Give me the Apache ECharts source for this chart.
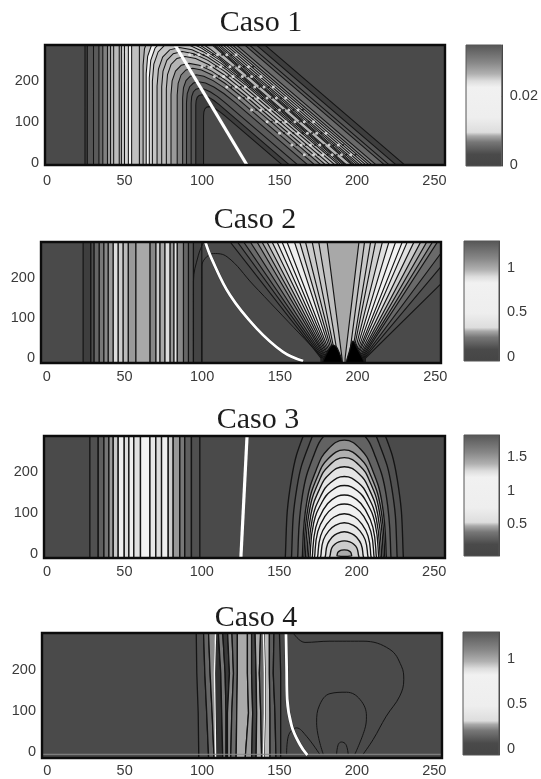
<!DOCTYPE html>
<html><head><meta charset="utf-8">
<style>html,body{margin:0;padding:0;background:#fff}#c{width:541px;height:779px;filter:blur(0.45px)}</style>
<script src="https://cdn.jsdelivr.net/npm/echarts@6/dist/echarts.min.js"></script>
</head><body><div id="c"></div>
<script>
// ---------- tick labels ----------
const xTicks = [0, 50, 100, 150, 200, 250];
const yTicks = [0, 100, 200];
const titles = ['Caso 1', 'Caso 2', 'Caso 3', 'Caso 4'];
const barTicks1 = [0, 0.02];
const barTicks2 = [0, 0.5, 1];
const barTicks3 = [0.5, 1, 1.5];
const barTicks4 = [0, 0.5, 1];
// colour bar: fraction of the range, grey
const barStops = [[0,'#454545'],[0.1,'#4a4a4a'],[0.2,'#777777'],[0.25,'#a8a8a8'],[0.28,'#dddddd'],[0.4,'#eeeeee'],[0.65,'#f1f1f1'],[0.7,'#dddddd'],[0.76,'#b0b0b0'],[0.85,'#888888'],[1,'#555555']];

// ---------- Caso 1: contour levels, outermost first ----------
const c1LeftX   = [24.5,26,30,33.5,36,39,41,43,46.6,48,50,52.5,54.6,59.6];
const c1RightX  = [101,96,93,90,87.5,84,80,77,74,71,68,66,64,62];
const c1ApexY   = [137,166,182,198,215,231,243,260,272,282,295,305,315,330];
const c1DiagInnerBottom = [150,154.6,160,166.5,171,175,178,181,184,186.5,188,189.5,190.5,191.5];
const c1DiagOuterBottom = [229,223.5,219,216,210.6,208,206,204,202,200,198.5,197,196,195];
const c1DiagSlope = 0.307;
const c1Grey = ['#3e3e3e','#555555','#5a5a5a','#6a6a6a','#808080','#999999','#b4b4b4','#bbbbbb','#b4b4b4','#c4c4c4','#d4d4d4','#f4f4f4','#c0c0c0','#b4b4b4'];
const c1White = [[82.6,288],[129,-6]];
// moire dots of the diagonal band: row height, first x, last x
const c1DotRows = [[264,92,124],[235,100,133],[211,108,140],[185,116,148],[158,124,156],[129,132,165],[100,142,174],[72,150,182],[43,158,192],[19,166,200]];

// ---------- Caso 2 ----------
const c2StripeX = [23.4,28.4,30.5,33.8,36.8,39.6,42.8,46,49.2,52.5,57.4,66.5,70.3,72.9,76.1,79.4,81.9,84,88,91.2,94.4,99.8];
const c2StripeGrey = ['#3e3e3e','#4e4e4e','#666666','#777777','#888888','#9a9a9a','#dddddd','#cccccc','#bbbbbb','#999999','#a8a8a8','#888888','#cccccc','#aaaaaa','#dddddd','#999999','#e8e8e8','#888888','#666666','#555555','#444444'];
const c2FanLeftTop = [118,122.7,126.7,131,135.3,138.5,141.7,145,148.2,151.4,154.6,159.4,162.8,166.5,170.8,175,180.4];
const c2FanLeftBottom = [176.5,177.2,178,178.7,179.4,180,180.7,181.4,182,182.7,183.4,184,184.7,185.4,186,187.5,190];
const c2FanRightTop = [281,267,259,251.4,248.2,244.5,240.6,236.3,232,228.8,224.5,220.2,216,211.6,208.4,204.5,200.9];
const c2FanRightBottom = [205,204.3,203.6,203,202.3,201.6,201,200.3,199.6,199,198.4,197.8,197.2,196.6,196,194.5,192];
const c2FanGrey = ['#505050','#5a5a5a','#6a6a6a','#808080','#999999','#b0b0b0','#cccccc','#e0e0e0','#eeeeee','#f2f2f2','#eeeeee','#e0e0e0','#d0d0d0','#cccccc','#c8c8c8','#c0c0c0','#a8a8a8'];
const c2BlobLeft = [[177.5,-20],[181,18],[184,32],[187,24],[190,-20]];
const c2BlobRight = [[193,-20],[195,20],[197,42],[200,22],[204.5,-20]];
const c2ArchA = [[99.8,-13],[99.8,229],[102,250],[107.3,262],[116,254],[133,183],[178,-2]];
const c2ArchB = [[94.4,-13],[94.4,191],[97.6,258],[100.9,291]];
const c2White = [[102,292],[106,250],[118,157],[135,74],[152,15],[165,-8]];

// ---------- Caso 3 ----------
const c3StripeX = [27.7,33.1,36.8,40,42.8,46,49.9,52.9,56.1,60.4,66.5,70.3,74,78.3,81.5,85.8,89,93.3,98.7];
const c3StripeGrey = ['#505050','#5e5e5e','#757575','#999999','#c8c8c8','#eeeeee','#dddddd','#eeeeee','#e0e0e0','#f2f2f2','#e8e8e8','#dddddd','#eeeeee','#cccccc','#999999','#777777','#5e5e5e','#505050'];
const c3ArcCentre = 192;
const c3ArcHalfWidth = [38,34,30,27,26,25,24,23,22,20.5,19,17,15,12,9,4.5];
const c3ArcApexY = [403,360,320,278,254,235,213,189,167,144,122,98,76,54,32,10];
const c3ArcGrey = ['#505050','#585858','#626262','#909090','#b0b0b0','#d0d0d0','#e4e4e4','#eeeeee','#f0f0f0','#f2f2f2','#f0f0f0','#eeeeee','#e8e8e8','#dddddd','#cccccc','#aaaaaa'];
// arc outline: share of the apex height, share of the half width
const c3ArcProfile = [[-0.5,1],[0,1],[0.45,0.9],[0.75,0.66],[0.92,0.39],[1,0]];
const c3White = [[129.2,288],[125.2,-10]];

// ---------- Caso 4 ----------
const c4EdgeY = [300,192,95,-20];
const c4Edges = [[96.2,96.6,97.5,97.9],[100.9,101.8,103,104.3],[104.1,105.2,106.5,107.8],[109,108.2,108.6,109],[110.4,112.1,112.7,113.4],[113.2,114.9,115.5,115.5],[116.4,117.7,116.4,116.4],[119.2,120.3,119.2,118.5],[122.8,122.8,122.4,122],[129.3,129.3,130,127.8],[132,132,132.7,132],[134.2,134.9,135.3,134.9],[137.9,137,137.9,138.5],[140,140.7,140.7,140],[143.5,143.5,143.9,143.9],[146.5,146,147.1,147.8],[149.9,150.8,150.8,150.8]];
const c4Grey = ['#505050','#666666','#8a8a8a','#333333','#777777','#3a3a3a','#888888','#6a6a6a','#aaaaaa','#999999','#444444','#aaaaaa','#666666','#bbbbbb','#5e5e5e','#505050'];
const c4ThinWhiteA = [[108.8,300],[108,192],[108.4,95],[108.8,-20]];
const c4ThinWhiteB = [[139.6,300],[140.3,192],[140.3,95],[139.6,-20]];
const c4LineOuter = [[158.9,290],[166.5,267],[182.6,270],[204,270],[221.3,250],[228.8,209],[230.3,176],[227.7,136],[219,87],[210.5,30],[204,-6]];
const c4LineMid = [[178.3,-6],[174,71],[176,115],[182.6,142],[193.3,145.5],[202,128],[206.2,87],[205,54],[198.7,-6]];
const c4LineSmall = [[186.9,-6],[188,18],[190,24],[192.9,18],[194.4,-6]];
const c4LineSide = [[154.6,-6],[155.7,38],[161,58.5],[167.5,38],[176,-6]];
const c4BaseLine = [[-4,-6],[256,-6]];
const c4White = [[154.2,290],[154.6,209],[155,128],[157.9,63],[163.2,18],[168,-8]];

// ---------- regions built from the values above ----------
const far = 500, under = -60;
function stripes(x, grey) {
  return grey.map((g, i) => ({grey: g, pts: [[x[i],under],[x[i],far],[x[i+1],far],[x[i+1],under]]}));
}
function caso1Regions() {
  return c1Grey.map((g, k) => {
    const s = c1DiagSlope, cL = c1LeftX[k], cR = c1RightX[k], dL = c1DiagInnerBottom[k], dR = c1DiagOuterBottom[k];
    const yi = (dL - cR) / s, r = 2 * (yi - c1ApexY[k]);
    const p0 = [cR, yi - r], p1 = [cR, yi], p2 = [dL - s * (yi - r), yi - r];
    const arc = [];
    for (let t = 1; t >= 0; t -= 0.125) {
      const u = 1 - t;
      arc.push([u*u*p0[0] + 2*u*t*p1[0] + t*t*p2[0], u*u*p0[1] + 2*u*t*p1[1] + t*t*p2[1]]);
    }
    return {grey: g, pts: [[cL,under],[cL,far],[dR - s*far,far],[dR - s*under,under],[dL - s*under,under]].concat(arc).concat([[cR,under]])};
  });
}
function fanRegions() {
  return c2FanGrey.map((g, k) => ({grey: g, pts: [
    [c2FanLeftTop[k],291],[c2FanLeftBottom[k],-1],[c2FanLeftBottom[k],under],
    [c2FanRightBottom[k],under],[c2FanRightBottom[k],-1],[c2FanRightTop[k],291],
    [c2FanRightTop[k],far],[c2FanLeftTop[k],far]]}));
}
function arcRegions() {
  return c3ArcGrey.map((g, k) => {
    const L = c3ArcProfile.map(p => [c3ArcCentre - p[1]*c3ArcHalfWidth[k], p[0]*c3ArcApexY[k]]);
    const R = c3ArcProfile.slice(0, -1).reverse().map(p => [c3ArcCentre + p[1]*c3ArcHalfWidth[k], p[0]*c3ArcApexY[k]]);
    return {grey: g, smooth: 0.45, pts: L.concat(R)};
  });
}
function wavyRegions() {
  return c4Grey.map((g, i) => ({grey: g, pts:
    c4Edges[i].map((x, j) => [x, c4EdgeY[j]]).concat(c4Edges[i+1].map((x, j) => [x, c4EdgeY[j]]).reverse())}));
}
function dotLattice(rows, offset) {
  const out = [];
  rows.forEach(r => { for (let x = r[1] + offset; x <= r[2]; x += 6) out.push([x, r[0]]); });
  return out;
}

const panels = [
  {top:45, height:120, left:45, width:400, xMin:-1.3, xMax:256.8, yMin:-6, yMax:288, xMargin:8,
   regions: caso1Regions(), white: c1White, lineW:1.05, dots:true, titleX:256, titleY:20, bar:{left:466, top:45, w:36, h:121, min:-0.0003, max:0.0348, ticks:barTicks1}},
  {top:242, height:121, left:41, width:400, xMin:-3.7, xMax:253.7, yMin:-13, yMax:291, xMargin:6,
   regions: stripes(c2StripeX, c2StripeGrey).concat(fanRegions(), [{grey:'#000000', smooth:0.3, pts:c2BlobLeft},{grey:'#000000', smooth:0.3, pts:c2BlobRight}]), white: c2White, smooth:true, lines:[c2ArchA, c2ArchB], lineW:1.15, titleX:250, titleY:217, bar:{left:464, top:241, w:35, h:120, min:-0.05, max:1.3, ticks:barTicks2}},
  {top:436, height:122, left:44, width:401, xMin:-1.9, xMax:257, yMin:-10, yMax:288, xMargin:6,
   regions: stripes(c3StripeX, c3StripeGrey).concat(arcRegions()), white: c3White, lineW:1.35, titleX:253, titleY:417, bar:{left:464, top:435, w:35, h:121, min:0.01, max:1.84, ticks:barTicks3}},
  {top:633, height:125, left:42, width:400, xMin:-3.4, xMax:255, yMin:-15, yMax:290, xMargin:5,
   regions: wavyRegions(), white: c4White, smooth:true, lines:[c4LineOuter, c4LineMid, c4LineSmall, c4LineSide], thin:[c4ThinWhiteA, c4ThinWhiteB], base:c4BaseLine, lineW:1.3, titleX:251, titleY:615, bar:{left:463, top:632, w:36, h:123, min:-0.065, max:1.3, ticks:barTicks4}}
];

const font = '"Liberation Sans"';
const labelStyle = {fontFamily:font, fontSize:14.5, color:'#3a3a3a', margin:6};
const option = {animation:false, backgroundColor:'#fff', title:[], grid:[], xAxis:[], yAxis:[], series:[]};

panels.forEach(p => {
  option.title.push({text: titles[panels.indexOf(p)], left:p.titleX, top:p.titleY-17, textAlign:'center',
    textStyle:{fontFamily:'"Liberation Serif"', fontSize:30, fontWeight:'normal', color:'#1c1c1c'}});
  const gi = option.grid.length;
  option.grid.push({left:p.left, top:p.top, width:p.width, height:p.height, show:true, backgroundColor:'#4a4a4a', borderWidth:0});
  option.xAxis.push({type:'value', gridIndex:gi, min:p.xMin, max:p.xMax, splitLine:{show:false}, axisTick:{show:false},
    axisLine:{show:false, onZero:false}, axisLabel:Object.assign({customValues:xTicks}, labelStyle, {margin:p.xMargin})});
  option.yAxis.push({type:'value', gridIndex:gi, min:p.yMin, max:p.yMax, splitLine:{show:false}, axisTick:{show:false},
    axisLine:{show:false, onZero:false}, axisLabel:Object.assign({customValues:yTicks}, labelStyle)});
  const regions = p.regions;
  option.series.push({type:'custom', xAxisIndex:gi, yAxisIndex:gi, clip:true, silent:true, z:2,
    data: regions.map((r, i) => [i]),
    renderItem: (params, api) => {
      const r = regions[params.dataIndex];
      return {type:'polygon', shape:{points:r.pts.map(q => api.coord(q)), smooth:r.smooth || 0},
        style:{fill:r.grey, stroke:'#141414', lineWidth:p.lineW}};
    }});
  if (p.dots) {
    option.series.push({type:'scatter', xAxisIndex:gi, yAxisIndex:gi, data:dotLattice(c1DotRows, 0), symbolSize:3, silent:true, z:3, itemStyle:{color:'#f0f0f0'}});
    option.series.push({type:'scatter', xAxisIndex:gi, yAxisIndex:gi, data:dotLattice(c1DotRows, 3), symbolSize:2.2, silent:true, z:3, itemStyle:{color:'#111111'}});
  }
  (p.thin || []).forEach(l => option.series.push({type:'line', xAxisIndex:gi, yAxisIndex:gi, data:l, showSymbol:false, silent:true, z:3, lineStyle:{color:'#f4f4f4', width:1.4}}));
  (p.lines || []).forEach(l => option.series.push({type:'line', xAxisIndex:gi, yAxisIndex:gi, data:l, smooth:0.4, showSymbol:false, silent:true, z:3, lineStyle:{color:'#141414', width:1}}));
  if (p.base) option.series.push({type:'line', xAxisIndex:gi, yAxisIndex:gi, data:p.base, showSymbol:false, silent:true, z:3, lineStyle:{color:'#8a8a8a', width:1}});
  if (p.smooth) option.series.push({type:'line', xAxisIndex:gi, yAxisIndex:gi, data:p.white, smooth:0.4, showSymbol:false, silent:true, z:4, lineStyle:{color:'#333', width:3.6}});
  option.series.push({type:'line', xAxisIndex:gi, yAxisIndex:gi, data:p.white, smooth:p.smooth ? 0.4 : false, showSymbol:false, silent:true, z:5, lineStyle:{color:'#ffffff', width:p.smooth ? 2.8 : 3.2}});
  option.series.push({type:'custom', xAxisIndex:gi, yAxisIndex:gi, clip:false, silent:true, z:6, data:[[0]],
    renderItem: (params) => ({type:'rect', shape:{x:params.coordSys.x, y:params.coordSys.y, width:params.coordSys.width, height:params.coordSys.height},
      style:{fill:'none', stroke:'#0c0c0c', lineWidth:2.4}})});
});

panels.forEach(p => {
  const b = p.bar, gi = option.grid.length;
  option.grid.push({left:b.left, top:b.top, width:b.w, height:b.h, show:false});
  option.xAxis.push({type:'value', gridIndex:gi, min:0, max:1, show:false});
  option.yAxis.push({type:'value', gridIndex:gi, min:b.min, max:b.max, position:'right', splitLine:{show:false},
    axisLine:{show:true, onZero:false, lineStyle:{color:'#444', width:1}},
    axisTick:{show:true, inside:true, length:2, customValues:b.ticks, lineStyle:{color:'#333'}},
    axisLabel:Object.assign({customValues:b.ticks}, labelStyle, {margin:8})});
  option.series.push({type:'custom', xAxisIndex:gi, yAxisIndex:gi, silent:true, data:[[0]],
    renderItem: (params, api) => {
      const a = api.coord([0, b.max]), c = api.coord([1, b.min]);
      return {type:'rect', shape:{x:a[0], y:a[1], width:c[0]-a[0], height:c[1]-a[1]},
        style:{fill:new echarts.graphic.LinearGradient(0,1,0,0, barStops.map(s => ({offset:s[0], color:s[1]}))), stroke:'#555', lineWidth:1}};
    }});
});

echarts.init(document.getElementById('c')).setOption(option);
</script></body></html>
